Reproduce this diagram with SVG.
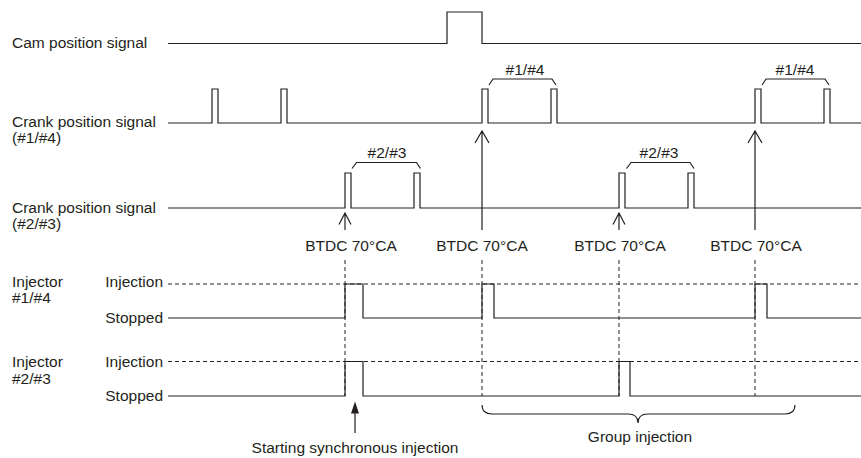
<svg xmlns="http://www.w3.org/2000/svg" width="861" height="458" viewBox="0 0 861 458">
<style>
text{font-family:"Liberation Sans",Arial,Helvetica,sans-serif;font-size:15.5px;fill:#231f20}
.m{text-anchor:middle}
.e{text-anchor:end}
.s{fill:none;stroke:#231f20;stroke-width:1.2}
.d{fill:none;stroke:#231f20;stroke-width:1;stroke-dasharray:4 3}
</style>
<rect width="861" height="458" fill="#fff"/>
<g id="labels">
<text x="12" y="48">Cam position signal</text>
<text x="12" y="127">Crank position signal</text>
<text x="12" y="143">(#1/#4)</text>
<text x="12" y="212.5">Crank position signal</text>
<text x="12" y="229">(#2/#3)</text>
<text x="12" y="287">Injector</text>
<text x="12" y="303">#1/#4</text>
<text x="12" y="366.5">Injector</text>
<text x="12" y="384">#2/#3</text>
<text class="e" x="163" y="287">Injection</text>
<text class="e" x="163" y="322.5">Stopped</text>
<text class="e" x="163" y="366.5">Injection</text>
<text class="e" x="163" y="401">Stopped</text>
</g>
<g id="cam-signal">
<path class="s" d="M168,43.5 H447 V12 H482 V43.5 H861"/>
</g>
<g id="crank-14">
<path class="s" d="M168,123 H212 V89 H218 V123 H281 V89 H287 V123 H482 V89 H488 V123 H551 V89 H557 V123 H755 V89 H761 V123 H824 V89 H830 V123 H861"/>
<path class="s" d="M489,85 L493,79 H552 L556,85"/>
<text class="m" x="525" y="75">#1/#4</text>
<path class="s" d="M762,85 L766,79 H825 L829,85"/>
<text class="m" x="795" y="75">#1/#4</text>
</g>
<g id="crank-23">
<path class="s" d="M168,208 H345 V173 H351 V208 H414 V173 H420 V208 H619 V173 H625 V208 H688 V173 H694 V208 H861"/>
<path class="s" d="M352,168.5 L356.5,162.5 H416.5 L420.5,168.5"/>
<text class="m" x="387" y="158">#2/#3</text>
<path class="s" d="M626.5,168.5 L631,162.5 H690 L694,168.5"/>
<text class="m" x="659" y="158">#2/#3</text>
</g>
<g id="btdc">
<text class="m" x="351" y="251">BTDC 70°CA</text>
<text class="m" x="482" y="251">BTDC 70°CA</text>
<text class="m" x="620" y="251">BTDC 70°CA</text>
<text class="m" x="756" y="251">BTDC 70°CA</text>
</g>
<g id="injector-14">
<path class="d" d="M168,284 H861"/>
<path class="s" d="M168,318 H345 V284 H363 V318 H482 V284 H494 V318 H755 V284 H767 V318 H861"/>
</g>
<g id="injector-23">
<path class="d" d="M168,361.5 H861"/>
<path class="s" d="M168,396 H345 V361.5 H363 V396 H619 V361.5 H630 V396 H861"/>
</g>
<g id="connectors">
<path class="d" d="M345,260 V396 M482,260 V396 M619,260 V396 M755,260 V396"/>
<path class="s" d="M345,230 V213 M339,224.5 L345,213 L351,224.5"/>
<path class="s" d="M619,230 V213 M613,224.5 L619,213 L625,224.5"/>
<path class="s" d="M482,230 V131 M475,143 L482,131 L489,143"/>
<path class="s" d="M755,230 V131 M748,143 L755,131 L762,143"/>
<path class="s" d="M355,433 V411"/>
<path d="M355,401.5 L359,413.5 L351,413.5 Z" fill="#231f20"/>
</g>
<g id="group-brace">
<path class="s" d="M482,405 Q482,414 492,414 H628 Q638,414 638,423 Q638,414 648,414 H785 Q795,414 795,405"/>
<text class="m" x="640" y="441.5">Group injection</text>
</g>
<g id="start-label">
<text class="m" x="355" y="452.5">Starting synchronous injection</text>
</g>
</svg>
